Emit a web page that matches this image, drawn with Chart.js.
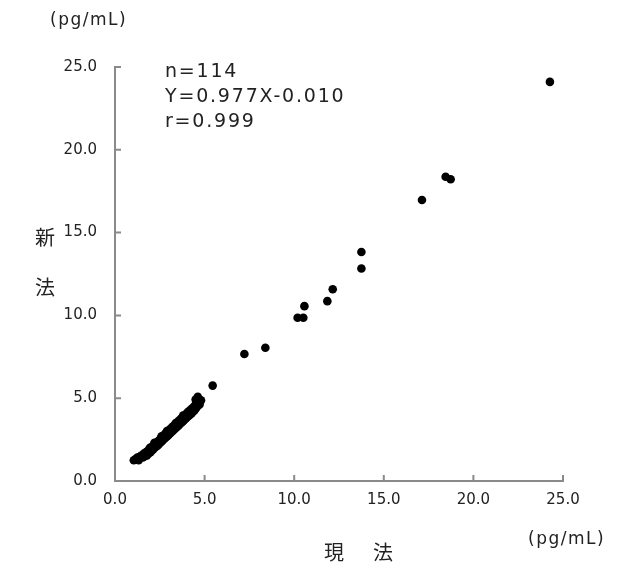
<!DOCTYPE html>
<html>
<head>
<meta charset="utf-8">
<script src="https://cdn.jsdelivr.net/npm/chart.js@4"></script>
<style>
  html, body { margin: 0; padding: 0; background: #fff; }
</style>
</head>
<body>
<canvas id="scatter" width="617" height="566"></canvas>
<script>
// 現法 (x) vs 新法 (y), pg/mL
const currentMethod = [
  1.05, 1.15, 1.25, 1.32, 1.40, 1.48, 1.55, 1.60, 1.66, 1.72,
  1.78, 1.82, 1.88, 1.92, 1.98, 2.02, 2.06, 2.10, 2.14, 2.18,
  2.22, 2.26, 2.30, 2.34, 2.38, 2.42, 2.46, 2.50, 2.53, 2.56,
  2.60, 2.63, 2.66, 2.70, 2.74, 2.77, 2.80, 2.84, 2.88, 2.91,
  2.95, 2.98, 3.02, 3.05, 3.08, 3.12, 3.15, 3.18, 3.22, 3.25,
  3.28, 3.32, 3.35, 3.38, 3.42, 3.45, 3.48, 3.52, 3.55, 3.58,
  3.62, 3.65, 3.68, 3.72, 3.75, 3.78, 3.82, 3.85, 3.88, 3.92,
  3.96, 4.00, 4.04, 4.08, 4.12, 4.16, 4.20, 4.24, 4.28, 4.32,
  4.36, 4.40, 4.44, 4.48, 4.52, 4.56, 4.60, 4.62, 4.68, 4.72,
  4.80, 4.50, 2.20, 2.90, 3.40, 3.10, 1.95, 2.60, 3.80, 4.10,
  5.45, 7.22, 8.39, 10.19, 10.51, 10.57, 11.85, 12.15, 13.75, 13.75,
  17.13, 18.45, 18.73, 24.27
];
const newMethod = [
  1.25, 1.32, 1.42, 1.26, 1.47, 1.54, 1.42, 1.65, 1.49, 1.73,
  1.54, 1.81, 1.66, 1.91, 1.74, 2.01, 1.84, 2.09, 1.92, 2.18,
  2.02, 2.25, 2.08, 2.33, 2.14, 2.41, 2.24, 2.49, 2.32, 2.58,
  2.39, 2.65, 2.46, 2.73, 2.54, 2.81, 2.60, 2.88, 2.68, 2.95,
  2.74, 3.03, 2.82, 3.09, 2.89, 3.17, 2.96, 3.23, 3.02, 3.31,
  3.09, 3.38, 3.16, 3.45, 3.24, 3.51, 3.30, 3.58, 3.36, 3.65,
  3.44, 3.71, 3.50, 3.78, 3.56, 3.85, 3.64, 3.93, 3.72, 3.99,
  3.79, 4.07, 3.86, 4.15, 3.94, 4.23, 4.02, 4.31, 4.10, 4.39,
  4.19, 4.48, 4.28, 4.58, 4.39, 4.68, 4.52, 5.08, 4.78, 4.62,
  4.87, 4.92, 2.30, 3.02, 3.50, 3.00, 2.00, 2.70, 3.95, 4.20,
  5.76, 7.67, 8.05, 9.86, 9.86, 10.56, 10.86, 11.58, 12.83, 13.83,
  16.97, 18.37, 18.22, 24.10
];
const tickValues = [0, 5, 10, 15, 20, 25];
const statsLines = ['n=114', 'Y=0.977X-0.010', 'r=0.999'];
const unitLabel = '(pg/mL)';
const xTitle = ['現', '法'];
const yTitle = ['新', '法'];

const axisColor = '#8a8a8a';
const textColor = '#222';
const numFont = '"DejaVu Sans", sans-serif';
const jpFont = '"Noto Sans CJK JP", sans-serif';

const points = currentMethod.map((x, i) => ({ x: x, y: newMethod[i] }));

// inner tick marks + free texts
const decorations = {
  id: 'decorations',
  afterDraw(chart) {
    const { ctx, chartArea, scales } = chart;
    ctx.save();
    ctx.strokeStyle = axisColor;
    ctx.lineWidth = 2;
    tickValues.forEach(v => {
      const px = scales.x.getPixelForValue(v);
      const py = scales.y.getPixelForValue(v);
      ctx.beginPath();
      ctx.moveTo(px, chartArea.bottom);
      ctx.lineTo(px, chartArea.bottom - 6);
      ctx.moveTo(chartArea.left, py);
      ctx.lineTo(chartArea.left + 6, py);
      ctx.stroke();
    });

    ctx.fillStyle = textColor;
    ctx.textBaseline = 'middle';

    ctx.font = '17px ' + numFont;
    ctx.letterSpacing = '1.5px';
    ctx.textAlign = 'left';
    ctx.fillText(unitLabel, 50, 21);
    ctx.fillText(unitLabel, 528, 540);

    ctx.font = '19px ' + numFont;
    ctx.letterSpacing = '1.8px';
    statsLines.forEach((s, i) => ctx.fillText(s, 165, 72 + i * 25));
    ctx.letterSpacing = '0px';

    ctx.font = '20px ' + jpFont;
    ctx.textAlign = 'center';
    yTitle.forEach((c, i) => ctx.fillText(c, 45, 237 + i * 50));
    xTitle.forEach((c, i) => ctx.fillText(c, 334 + i * 49, 552));
    ctx.restore();
  }
};

new Chart(document.getElementById('scatter'), {
  type: 'scatter',
  data: {
    datasets: [{
      data: points,
      backgroundColor: '#000',
      borderWidth: 0,
      pointRadius: 4.3,
      pointHoverRadius: 4.3
    }]
  },
  options: {
    responsive: false,
    animation: false,
    layout: { padding: { top: 67, right: 54, left: 0, bottom: 0 } },
    plugins: {
      legend: { display: false },
      tooltip: { enabled: false }
    },
    scales: {
      x: {
        type: 'linear',
        min: 0,
        max: 25,
        afterFit: s => { s.height = 85; },
        afterBuildTicks: s => { s.ticks = tickValues.map(v => ({ value: v })); },
        grid: { drawOnChartArea: false, drawTicks: false },
        border: { display: true, color: axisColor, width: 2 },
        ticks: {
          padding: 10,
          color: textColor,
          font: { family: numFont, size: 15 },
          callback: v => v.toFixed(1)
        }
      },
      y: {
        type: 'linear',
        min: 0,
        max: 25,
        afterFit: s => { s.width = 115; },
        afterBuildTicks: s => { s.ticks = tickValues.map(v => ({ value: v })); },
        grid: { drawOnChartArea: false, drawTicks: false },
        border: { display: true, color: axisColor, width: 2 },
        ticks: {
          padding: 18,
          color: textColor,
          font: { family: numFont, size: 15 },
          callback: v => v.toFixed(1)
        }
      }
    }
  },
  plugins: [decorations]
});
</script>
</body>
</html>
